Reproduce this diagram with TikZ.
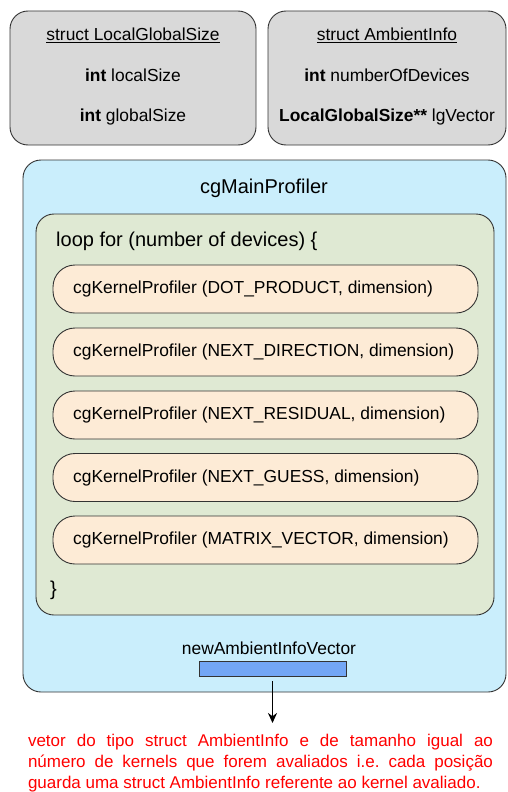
\documentclass[tikz,border=0pt]{standalone}
\usepackage{fontspec}
\setmainfont{Liberation Sans}
\usetikzlibrary{arrows.meta}
\definecolor{structgray}{HTML}{D9D9D9}
\definecolor{mainblue}{HTML}{CAEEFC}
\definecolor{loopgreen}{HTML}{DFE9D3}
\definecolor{kernelorange}{HTML}{FDEBD6}
\definecolor{vecblue}{HTML}{73A6F5}
\definecolor{noteRed}{HTML}{FF0000}
\definecolor{edge}{HTML}{333333}
\tikzset{
  structbox/.style={draw=edge, line width=0.9pt, fill=structgray, rounded corners=18pt,
    minimum height=134pt, inner sep=0pt},
  mainbox/.style={draw=edge, line width=0.9pt, fill=mainblue, rounded corners=18pt,
    minimum width=483pt, minimum height=532pt, inner sep=0pt},
  loopbox/.style={draw=edge, line width=0.9pt, fill=loopgreen, rounded corners=18pt,
    minimum width=458pt, minimum height=401pt, inner sep=0pt},
  kernel/.style={draw=edge, line width=0.9pt, fill=kernelorange, rounded corners=22pt,
    minimum width=425pt, minimum height=48pt, inner sep=0pt},
  kerneltext/.style={anchor=west, font=\fontsize{17.4}{20}\selectfont, inner sep=0pt},
  label/.style={font=\fontsize{17.4}{20}\selectfont, inner sep=0pt},
}
\begin{document}
\begin{tikzpicture}[x=1pt, y=-1pt]
  \useasboundingbox (0,0) rectangle (508,792);

  % structure declarations
  \node[structbox, minimum width=246pt] (lgs) at (133,78) {};
  \node[label] (lgsT) at (133,35) {\underline{struct LocalGlobalSize}};
  \node[label] (lgsA) at (133,75) {\textbf{int} localSize};
  \node[label] (lgsB) at (133,117) {\textbf{int} globalSize};

  \node[structbox, minimum width=238pt] (amb) at (387,78) {};
  \node[label] (ambT) at (387,35) {\underline{struct AmbientInfo}};
  \node[label] (ambA) at (387,75) {\textbf{int} numberOfDevices};
  \node[label] (ambB) at (387,117) {\textbf{LocalGlobalSize**} lgVector};

  % main profiler
  \node[mainbox] (main) at (264.5,426) {};
  \node[label, font=\fontsize{20}{23}\selectfont] (mainT) at (264,188) {cgMainProfiler};

  % device loop
  \node[loopbox] (loop) at (265,414.5) {};
  \node[label, anchor=west, font=\fontsize{20}{23}\selectfont] (loopT) at (56,241)
    {loop for (number of devices) \{};
  \node[label, anchor=west, font=\fontsize{20}{23}\selectfont] (loopE) at (50,590) {\}};

  % kernel profilers
  \foreach \n/\y/\t in {k1/289/DOT\_PRODUCT, k2/352/NEXT\_DIRECTION,
      k3/415/NEXT\_RESIDUAL, k4/477.5/NEXT\_GUESS, k5/540/MATRIX\_VECTOR} {
    \node[kernel] (\n) at (265.5,\y) {};
    \node[kerneltext] (\n t) at (73,\y) {cgKernelProfiler (\t, dimension)};
  }

  % result vector
  \node[label] (vecT) at (269,648) {newAmbientInfoVector};
  \node[draw=edge, line width=0.9pt, fill=vecblue, minimum width=147pt, minimum height=15pt,
    inner sep=0pt] (vec) at (272.5,668.5) {};

  \node[text width=465pt, align=justify, text=noteRed, inner sep=0pt,
    font=\fontsize{17}{21}\selectfont, anchor=north] (note) at (260.5,734)
    {\frenchspacing\parfillskip=0pt
     vetor do tipo struct AmbientInfo e de tamanho igual ao\linebreak
     número de kernels que forem avaliados i.e. cada posição\linebreak
     guarda uma struct AmbientInfo referente ao kernel avaliado.};

  \coordinate (tip) at (vec.south |- note.north);
  \draw[line width=1.8pt, -{Stealth[length=10pt, width=9pt]}]
    ([yshift=-5pt]vec.south) -- ([yshift=11pt]tip);
\end{tikzpicture}
\end{document}
